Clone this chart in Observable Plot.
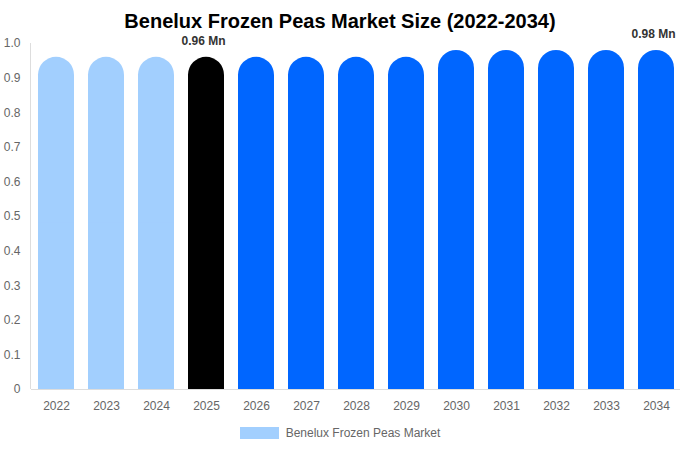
<!DOCTYPE html>
<html>
<head>
<meta charset="utf-8">
<script src="https://cdn.jsdelivr.net/npm/d3@7"></script>
<script src="https://cdn.jsdelivr.net/npm/@observablehq/plot@0.6"></script>
<style>
  body { margin: 0; background: #fff; font-family: "Liberation Sans", Arial, sans-serif; }
  #wrap { width: 680px; height: 450px; position: relative; }
  #title { font-size: 20px; font-weight: bold; text-align: center; line-height: 24px; padding-top: 9px; margin-bottom: -10px; color: #000; position: relative; z-index: 1; }
  #legend { display: flex; justify-content: center; align-items: center; margin-top: 7px; font-size: 12px; color: #666; }
  #legend .sw { width: 39px; height: 12px; margin-right: 7px; }
</style>
</head>
<body>
<div id="wrap">
  <div id="title">Benelux Frozen Peas Market Size (2022-2034)</div>
  <div id="chart"></div>
  <div id="legend"><span class="sw"></span><span class="lt"></span></div>
</div>
<script>
const years = ["2022","2023","2024","2025","2026","2027","2028","2029","2030","2031","2032","2033","2034"];
const values = [0.96,0.96,0.96,0.96,0.96,0.96,0.96,0.96,0.98,0.98,0.98,0.98,0.98];
const barColors = ["#a2cffe","#a2cffe","#a2cffe","#000000","#0066ff","#0066ff","#0066ff","#0066ff","#0066ff","#0066ff","#0066ff","#0066ff","#0066ff"];
const labeledYears = ["2025","2034"];
const yTicks = [0,0.1,0.2,0.3,0.4,0.5,0.6,0.7,0.8,0.9,1.0];
const seriesName = "Benelux Frozen Peas Market";
const legendColor = "#a2cffe";

const data = years.map((y, i) => ({year: y, value: values[i], color: barColors[i]}));
const labels = data.filter(d => labeledYears.includes(d.year));

const chart = Plot.plot({
  width: 680,
  height: 396,
  marginTop: 20,
  marginLeft: 31,
  marginRight: -1,
  marginBottom: 30,
  style: {fontFamily: "'Liberation Sans', Arial, sans-serif", fontSize: "12px", color: "#666", background: "transparent", overflow: "visible"},
  x: {domain: years, paddingInner: 0.28, paddingOuter: 0.14, label: null, tickSize: 0, tickPadding: 12},
  y: {domain: [0, 1], ticks: yTicks, label: null, tickSize: 0, tickPadding: 11, tickFormat: d => d === 0 ? "0" : d.toFixed(1)},
  marks: [
    Plot.barY(data, {x: "year", y: "value", fill: "color", rx: 18, ry: 18}),
    Plot.barY(data, {x: "year", y1: 0, y2: d => d.value / 2, fill: "color"}),
    Plot.ruleY([0], {stroke: "#ddd"}),
    Plot.text(labels, {x: "year", y: "value", text: d => d.value.toFixed(2) + " Mn", dy: -16, dx: -3, fontWeight: "bold", fill: "#333", fontSize: 12})
  ]
});
document.getElementById("chart").appendChild(chart);

// vertical axis line at left of plot area, positioned by the scale
const ys = chart.scale("y");
d3.select(chart).append("line")
  .attr("x1", 30.5).attr("x2", 30.5)
  .attr("y1", ys.apply(1)).attr("y2", ys.apply(0))
  .attr("stroke", "#ddd");

document.querySelector("#legend .sw").style.background = legendColor;
document.querySelector("#legend .lt").textContent = seriesName;
</script>
</body>
</html>
